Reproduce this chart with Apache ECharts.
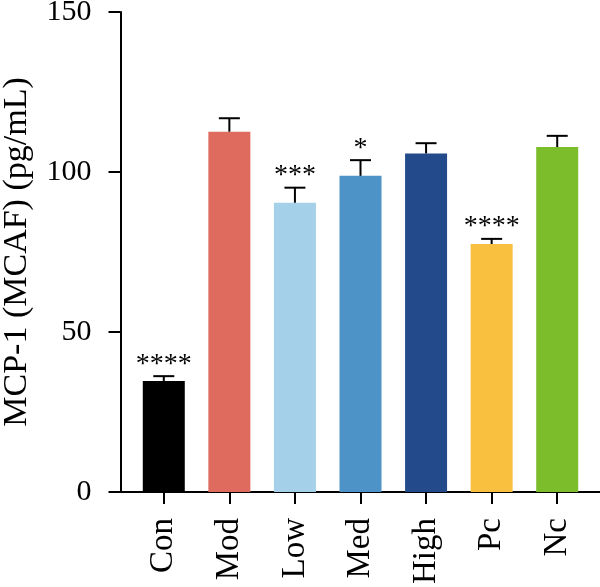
<!DOCTYPE html>
<html>
<head>
<meta charset="utf-8">
<title>MCP-1</title>
<script src="https://cdn.jsdelivr.net/npm/echarts@6/dist/echarts.min.js"></script>
<style>
  html, body { margin: 0; padding: 0; background: #fff; }
  #chart { width: 600px; height: 587px; }
</style>
</head>
<body>
<div id="chart"></div>
<script>
// data
var categories = ['Con', 'Mod', 'Low', 'Med', 'High', 'Pc', 'Nc'];
var means = [34.7, 112.6, 90.4, 98.8, 105.8, 77.5, 107.8];
var errors = [1.5, 4.2, 4.7, 4.9, 3.2, 1.6, 3.5];
var stars = ['****', '', '***', '*', '', '****', ''];
var yTicks = [0, 50, 100, 150];

var barColors = ['#000000', '#DF6B5F', '#A5D0E9', '#4D93C7', '#234B8B', '#F9BF3F', '#7CBD2C'];
var font = '"Liberation Serif", "Times New Roman", Times, serif';

var chart = echarts.init(document.getElementById('chart'));

var errData = categories.map(function (c, i) {
  return [i, means[i], errors[i]];
});

var option = {
  animation: false,
  textStyle: { fontFamily: font },
  grid: [
    { left: 131, right: 10, top: 12, bottom: 95, containLabel: false, outerBoundsMode: 'none' },
    { left: 120, right: 0, top: 12, bottom: 95, containLabel: false, outerBoundsMode: 'none' }
  ],
  xAxis: [
    {
      type: 'category',
      data: categories,
      gridIndex: 0,
      axisLine: { show: true, lineStyle: { color: '#000', width: 2 } },
      axisTick: { show: true, alignWithLabel: true, length: 12, lineStyle: { color: '#000', width: 2 } },
      axisLabel: { rotate: 90, margin: 26, color: '#000', fontFamily: font, fontSize: 33 }
    },
    {
      // axis line continues left to meet the y axis
      type: 'value',
      gridIndex: 1,
      min: 0,
      max: 1,
      axisLine: { show: true, lineStyle: { color: '#000', width: 2 } },
      axisTick: { show: false },
      axisLabel: { show: false },
      splitLine: { show: false }
    }
  ],
  yAxis: [
    {
      type: 'value',
      gridIndex: 0,
      min: yTicks[0],
      max: yTicks[yTicks.length - 1],
      interval: 50,
      offset: 10.5,
      name: 'MCP-1 (MCAF) (pg/mL)',
      nameLocation: 'middle',
      nameGap: 86,
      nameTextStyle: { color: '#000', fontFamily: font, fontSize: 34 },
      axisLine: { show: true, lineStyle: { color: '#000', width: 2 } },
      axisTick: { show: true, length: 12, lineStyle: { color: '#000', width: 2 } },
      axisLabel: { margin: 29, color: '#000', fontFamily: font, fontSize: 30 },
      splitLine: { show: false }
    },
    {
      type: 'value',
      gridIndex: 1,
      min: 0,
      max: 1,
      show: false
    }
  ],
  series: [
    {
      type: 'bar',
      xAxisIndex: 0,
      yAxisIndex: 0,
      barWidth: 42,
      data: means,
      itemStyle: {
        color: function (p) { return barColors[p.dataIndex]; }
      },
      z: 2
    },
    {
      type: 'custom',
      xAxisIndex: 0,
      yAxisIndex: 0,
      data: errData,
      z: 3,
      renderItem: function (params, api) {
        var i = api.value(0);
        var m = api.value(1);
        var e = api.value(2);
        var base = api.coord([i, m]);
        var top = api.coord([i, m + e]);
        var half = 10.5;
        var children = [
          { type: 'line', shape: { x1: base[0], y1: base[1], x2: top[0], y2: top[1] },
            style: { stroke: '#000', lineWidth: 2 } },
          { type: 'line', shape: { x1: top[0] - half, y1: top[1], x2: top[0] + half, y2: top[1] },
            style: { stroke: '#000', lineWidth: 2 } }
        ];
        var s = stars[params.dataIndex];
        if (s) {
          children.push({
            type: 'text',
            x: top[0],
            y: top[1] + 2,
            style: {
              text: s, fill: '#000', fontFamily: font, fontSize: 28,
              align: 'center', verticalAlign: 'bottom'
            }
          });
        }
        return { type: 'group', children: children };
      }
    }
  ]
};

chart.setOption(option);
</script>
</body>
</html>
